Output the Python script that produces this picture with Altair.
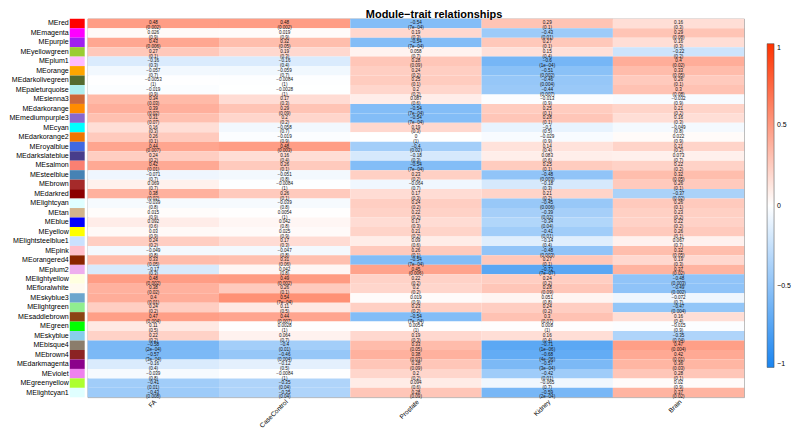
import altair as alt
import pandas as pd

modules = ["MEred", "MEmagenta", "MEpurple", "MEyellowgreen", "MEplum1", "MEorange",
           "MEdarkolivegreen", "MEpaleturquoise", "MEsienna3", "MEdarkorange", "MEmediumpurple3",
           "MEcyan", "MEdarkorange2", "MEroyalblue", "MEdarkslateblue", "MEsalmon", "MEsteelblue",
           "MEbrown", "MEdarkred", "MElightcyan", "MEtan", "MEblue", "MEyellow",
           "MElightsteelblue1", "MEpink", "MEorangered4", "MEplum2", "MElightyellow",
           "MEfloralwhite", "MEskyblue3", "MElightgreen", "MEsaddlebrown", "MEgreen", "MEskyblue",
           "MEbisque4", "MEbrown4", "MEdarkmagenta", "MEviolet", "MEgreenyellow", "MElightcyan1"]

traits = ["FA", "CaseControl", "Prostate", "Kidney", "Brain"]

cor_FA = [0.48, 0.026, 0.43, 0.27, -0.16, -0.057, -0.0053, -0.019, 0.34, 0.39, 0.31, 0.16, 0.26,
          0.44, 0.24, 0.42, -0.071, 0.069, 0.38, -0.039, 0.015, 0.092, 0.03, 0.24, -0.049, 0.33,
          -0.17, 0.48, 0.38, 0.4, 0.24, 0.47, 0.11, 0.22, -0.58, -0.57, -0.16, -0.039, -0.41, -0.43]
p_FA = ["0.002", "0.9", "0.006", "0.1", "0.3", "0.7", "1", "0.9", "0.03", "0.02", "0.07", "0.3",
        "0.1", "0.007", "0.2", "0.01", "0.7", "0.7", "0.02", "0.8", "0.9", "0.6", "0.9", "0.2",
        "0.8", "0.05", "0.3", "0.002", "0.02", "0.01", "0.2", "0.004", "0.5", "0.2", "2e-04",
        "3e-04", "0.4", "0.8", "0.01", "0.008"]

cor_CC = [0.48, 0.019, 0.32, 0.19, -0.16, -0.059, -0.0084, -0.0028, 0.17, 0.29, 0.2, -0.058,
          -0.019, 0.48, 0.16, 0.26, -0.051, -0.0084, 0.26, -0.039, 0.0054, 0.042, 0.025, 0.17,
          -0.047, 0.31, 0.042, 0.49, 0.26, 0.54, 0.11, 0.44, 0.0028, 0.064, -0.4, -0.46, -0.12,
          -0.0084, -0.35, -0.35]
p_CC = ["0.002", "0.9", "0.05", "0.3", "0.4", "0.7", "1", "1", "0.3", "0.09", "0.2", "0.7", "0.9",
        "0.003", "0.4", "0.1", "0.8", "1", "0.1", "0.8", "1", "0.8", "0.9", "0.3", "0.8", "0.06",
        "0.8", "0.002", "0.1", "7e-04", "0.5", "0.007", "1", "0.7", "0.01", "0.004", "0.5", "1",
        "0.04", "0.04"]

cor_PR = [-0.54, 0.19, -0.54, 0.058, 0.28, 0.24, 0.25, 0.2, 0.087, -0.54, -0.54, 0.19, 0,
          -0.4, -0.18, -0.54, 0.23, -0.064, 0.17, 0.24, 0.22, 0.17, 0.21, 0.09, 0.26, -0.54, 0.45,
          0.22, 0.2, 0.019, 0.23, -0.54, 0.0054, 0.19, 0.33, 0.38, 0.28, 0.2, 0.094, 0.28]
p_PR = ["7e-04", "0.3", "7e-04", "0.7", "0.09", "0.2", "0.1", "0.2", "0.6", "7e-04", "7e-04",
        "0.3", "1", "0.02", "0.3", "7e-04", "0.2", "0.7", "0.3", "0.2", "0.2", "0.3", "0.2", "0.6",
        "0.1", "7e-04", "0.006", "0.2", "0.2", "0.9", "0.2", "7e-04", "1", "0.3", "0.05", "0.03",
        "0.09", "0.2", "0.6", "0.09"]

cor_KI = [0.29, -0.43, 0.27, 0.15, -0.6, -0.51, -0.46, -0.44, -0.013, 0.25, 0.28, -0.1, -0.029,
          0.14, 0.083, 0.25, -0.48, -0.18, 0.21, -0.45, -0.39, -0.34, -0.41, -0.14, -0.48, 0.27,
          -0.72, 0.24, 0.28, 0.051, 0.24, 0.3, 0.008, 0.16, -0.71, -0.68, -0.57, -0.42, -0.065,
          -0.59]
p_KI = ["0.1", "0.01", "0.1", "0.4", "1e-04", "0.002", "0.004", "0.007", "0.9", "0.1", "0.1",
        "0.5", "0.9", "0.4", "0.6", "0.1", "0.003", "0.3", "0.2", "0.006", "0.02", "0.04", "0.01",
        "0.4", "0.003", "0.1", "7e-07", "0.2", "0.09", "0.8", "0.2", "0.07", "1", "0.4", "1e-06",
        "4e-06", "3e-04", "0.01", "0.7", "2e-04"]

cor_BR = [0.16, 0.29, 0.16, -0.22, 0.4, 0.33, 0.26, 0.3, -0.032, 0.21, 0.16, -0.049, 0.022,
          0.21, 0.073, 0.22, 0.32, 0.26, -0.37, 0.26, 0.23, 0.22, 0.26, 0.067, 0.32, 0.19, 0.37,
          -0.48, -0.49, -0.072, -0.47, 0.16, -0.015, -0.35, 0.47, 0.42, 0.36, 0.28, 0.02, 0.37]
p_BR = ["0.3", "0.08", "0.3", "0.2", "0.02", "0.05", "0.1", "0.08", "0.9", "0.2", "0.3", "0.8",
        "0.9", "0.2", "0.7", "0.2", "0.05", "0.1", "0.02", "0.1", "0.2", "0.2", "0.1", "0.7",
        "0.05", "0.3", "0.02", "0.003", "0.002", "0.7", "0.004", "0.4", "0.9", "0.04", "0.004",
        "0.01", "0.03", "0.1", "0.9", "0.02"]

# R colour names of the modules (swatch colours)
module_hex = {
    "MEred": "#FF0000", "MEmagenta": "#FF00FF", "MEpurple": "#A020F0", "MEyellowgreen": "#9ACD32",
    "MEplum1": "#FFBBFF", "MEorange": "#FFA500", "MEdarkolivegreen": "#556B2F",
    "MEpaleturquoise": "#AFEEEE", "MEsienna3": "#CD6839", "MEdarkorange": "#FF8C00",
    "MEmediumpurple3": "#8968CD", "MEcyan": "#00FFFF", "MEdarkorange2": "#EE7600",
    "MEroyalblue": "#4169E1", "MEdarkslateblue": "#483D8B", "MEsalmon": "#FA8072",
    "MEsteelblue": "#4682B4", "MEbrown": "#A52A2A", "MEdarkred": "#8B0000",
    "MElightcyan": "#E0FFFF", "MEtan": "#D2B48C", "MEblue": "#0000FF", "MEyellow": "#FFFF00",
    "MElightsteelblue1": "#CAE1FF", "MEpink": "#FFC0CB", "MEorangered4": "#8B2500",
    "MEplum2": "#EEAEEE", "MElightyellow": "#FFFFE0", "MEfloralwhite": "#FFFAF0",
    "MEskyblue3": "#6CA6CD", "MElightgreen": "#90EE90", "MEsaddlebrown": "#8B4513",
    "MEgreen": "#00FF00", "MEskyblue": "#87CEEB", "MEbisque4": "#8B7D6B", "MEbrown4": "#8B2323",
    "MEdarkmagenta": "#8B008B", "MEviolet": "#EE82EE", "MEgreenyellow": "#ADFF2F",
    "MElightcyan1": "#E0FFFF",
}

cors = {"FA": cor_FA, "CaseControl": cor_CC, "Prostate": cor_PR, "Kidney": cor_KI, "Brain": cor_BR}
pvals = {"FA": p_FA, "CaseControl": p_CC, "Prostate": p_PR, "Kidney": p_KI, "Brain": p_BR}


def fmt(v):
    return f"{v:g}".replace("-", "\u2212")


rows = []
for t in traits:
    for m, c, p in zip(modules, cors[t], pvals[t]):
        rows.append({"module": m, "trait": t, "cor": c,
                     "label": fmt(c) + "\n(" + p.replace("-", "\u2212") + ")"})
df = pd.DataFrame(rows)
sw = pd.DataFrame({"module": modules})

FONT = "Liberation Sans"

swatch = alt.Chart(sw).mark_rect().encode(
    y=alt.Y("module:N", sort=modules, title=None,
            axis=alt.Axis(domain=False, ticks=False, labelFontSize=7.1, labelPadding=1.5,
                          labelFont=FONT, labelColor="#000")),
    color=alt.Color("module:N", sort=modules,
                    scale=alt.Scale(domain=modules, range=[module_hex[m] for m in modules]),
                    legend=None),
).properties(width=15, height=380, view=alt.ViewBackground(stroke=None))

base = alt.Chart(df).encode(
    x=alt.X("trait:N", sort=traits, title=None,
            axis=alt.Axis(domain=False, ticks=False, labelAngle=-45, labelFontSize=6.6,
                          labelFont=FONT, labelColor="#000", labelPadding=1)),
    y=alt.Y("module:N", sort=modules, title=None, axis=None),
)

heat = base.mark_rect().encode(
    color=alt.Color("cor:Q",
                    scale=alt.Scale(domain=[-1, 0, 1], range=["#1a85f0", "#ffffff", "#ff3300"],
                                    interpolate="rgb"),
                    legend=alt.Legend(title=None, orient="none", legendX=682, legendY=25,
                                      gradientLength=325, gradientThickness=7,
                                      values=[-1, -0.5, 0, 0.5, 1], format=".1~f",
                                      labelFontSize=7, labelOffset=3,
                                      labelFont=FONT, labelColor="#000",
                                      gradientStrokeColor="#444", gradientStrokeWidth=0.5))
)
txt = base.mark_text(fontSize=4.6, font=FONT, color="#111", lineBreak="\n", lineHeight=4.9).encode(
    text="label:N")

main = alt.layer(heat, txt).properties(width=659, height=380,
                                       view=alt.ViewBackground(stroke="#999", strokeWidth=0.8))

chart = alt.hconcat(swatch, main, spacing=2).properties(
    title=alt.TitleParams("Module\u2212trait relationships", fontSize=11, font=FONT,
                          fontWeight="bold", anchor="middle", dx=34, offset=-2),
    padding={"left": 0, "top": 0, "right": 0, "bottom": 0},
).configure_view(stroke=None)

chart.save("out.html", embed_options={"renderer": "svg", "actions": False})
